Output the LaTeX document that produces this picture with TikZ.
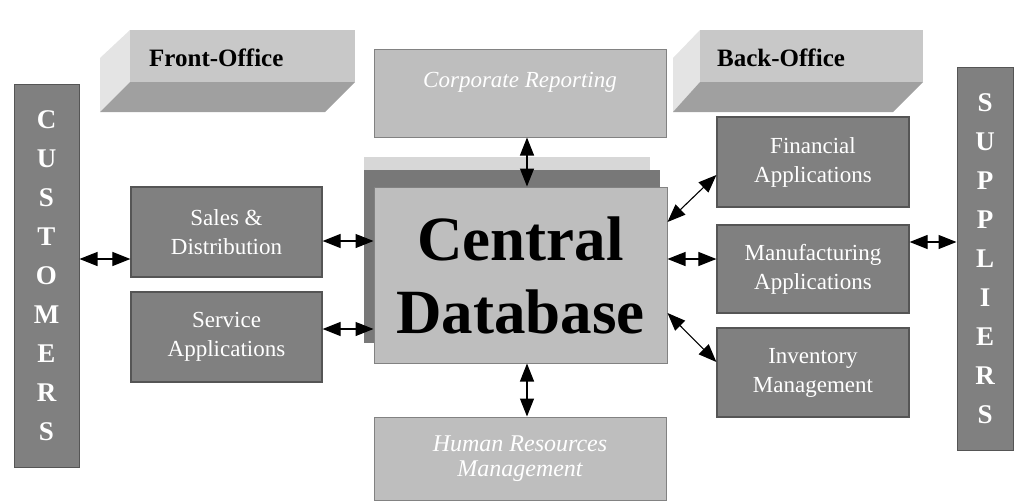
\documentclass[tikz,border=0pt]{standalone}
\usepackage{fontspec}
\setmainfont{Liberation Serif}
\usetikzlibrary{arrows.meta}
\definecolor{darkbox}{RGB}{128,128,128}
\definecolor{darkedge}{RGB}{85,85,85}
\definecolor{lightbox}{RGB}{190,190,190}
\definecolor{lightedge}{RGB}{130,130,130}
\definecolor{facetop}{RGB}{200,200,200}
\definecolor{facebottom}{RGB}{160,160,160}
\definecolor{faceside}{RGB}{228,228,228}
\definecolor{shadowlight}{RGB}{215,215,215}
\definecolor{shadowdark}{RGB}{120,120,120}
\begin{document}
\begin{tikzpicture}[x=1pt,y=-1pt,
  darkrect/.style={draw=darkedge,line width=1.2pt,fill=darkbox,text=white,
    inner sep=0pt,align=center,font=\fontsize{23}{29}\selectfont},
  lightrect/.style={draw=lightedge,line width=1pt,fill=lightbox,text=white,
    inner sep=0pt,align=center,font=\fontsize{24}{25}\selectfont\itshape},
  sidebar/.style={draw=darkedge,line width=1pt,fill=darkbox,text=white,
    inner sep=0pt,align=center,font=\fontsize{27}{39}\selectfont\bfseries},
  biarrow/.style={{Triangle[length=18pt,width=14pt]}-{Triangle[length=18pt,width=14pt]},line width=1.1pt,black},
  facelabel/.style={font=\fontsize{25}{26}\selectfont\bfseries,text=black,anchor=west,inner sep=0pt}
]
\useasboundingbox (0,0) rectangle (1015,501);

% Front-Office 3D slab
\fill[faceside] (130,30) -- (130,82) -- (100,112) -- (100,58) -- cycle;
\fill[facebottom] (130,82) -- (355,82) -- (325,112) -- (100,112) -- cycle;
\fill[facetop] (130,30) rectangle (355,82);
\node[facelabel] (front) at (149,58) {Front-Office};

% Back-Office 3D slab
\fill[faceside] (700,30) -- (700,82) -- (673,112) -- (673,58) -- cycle;
\fill[facebottom] (700,82) -- (923,82) -- (893,112) -- (673,112) -- cycle;
\fill[facetop] (700,30) rectangle (923,82);
\node[facelabel] (back) at (717,58) {Back-Office};

% side bars
\node[sidebar,minimum width=65pt,minimum height=383pt] (cust) at (46.5,275.5)
  {C\\U\\S\\T\\O\\M\\E\\R\\S};
\node[sidebar,minimum width=56pt,minimum height=383pt] (supp) at (985,258.5)
  {S\\U\\P\\P\\L\\I\\E\\R\\S};

% Corporate reporting and HR
\node[lightrect,minimum width=292pt,minimum height=88pt,
  label={[text=white,font=\fontsize{23}{26}\selectfont\itshape,anchor=center]center:\raisebox{27pt}{Corporate Reporting}}]
  (corp) at (520,93) {};
\node[lightrect,minimum width=292pt,minimum height=83pt] (hr) at (520,458.5)
  {Human Resources\\Management};

% Central database with shadows
\fill[shadowlight] (364,157) rectangle (650,190);
\fill[shadowdark] (364,170) rectangle (660,343);
\node[draw=lightedge,line width=1pt,fill=lightbox,inner sep=0pt,align=center,
  minimum width=293pt,minimum height=176pt,
  font=\fontsize{63}{73}\selectfont\bfseries] (central) at (520.5,275)
  {Central\\Database};

% front office applications
\node[darkrect,minimum width=191pt,minimum height=90pt] (sales) at (226.5,232)
  {Sales \&\\Distribution};
\node[darkrect,minimum width=191pt,minimum height=90pt] (serv) at (226.5,337)
  {Service\\Applications};

% back office applications
\node[darkrect,minimum width=192pt,minimum height=90pt] (fin) at (813,162)
  {Financial\\Applications};
\node[darkrect,minimum width=192pt,minimum height=88pt] (manu) at (813,269)
  {Manufacturing\\Applications};
\node[darkrect,minimum width=192pt,minimum height=89pt] (inv) at (813,372.5)
  {Inventory\\Management};

% connectors
\draw[biarrow] (cust.east |- 0,259) -- (sales.west |- 0,259);
\draw[biarrow] (sales.east |- 0,241) -- (central.west |- 0,241);
\draw[biarrow] (serv.east |- 0,329) -- (central.west |- 0,329);
\draw[biarrow] (corp.south -| 527,0) -- (central.north -| 527,0);
\draw[biarrow] (central.south -| 527,0) -- (hr.north -| 527,0);
\draw[biarrow] (central.east |- 0,222) -- (fin.west |- 0,175);
\draw[biarrow] (central.east |- 0,259) -- (manu.west |- 0,259);
\draw[biarrow] (central.east |- 0,313) -- (inv.west |- 0,362);
\draw[biarrow] (manu.east |- 0,242) -- (supp.west |- 0,242);
\end{tikzpicture}
\end{document}
